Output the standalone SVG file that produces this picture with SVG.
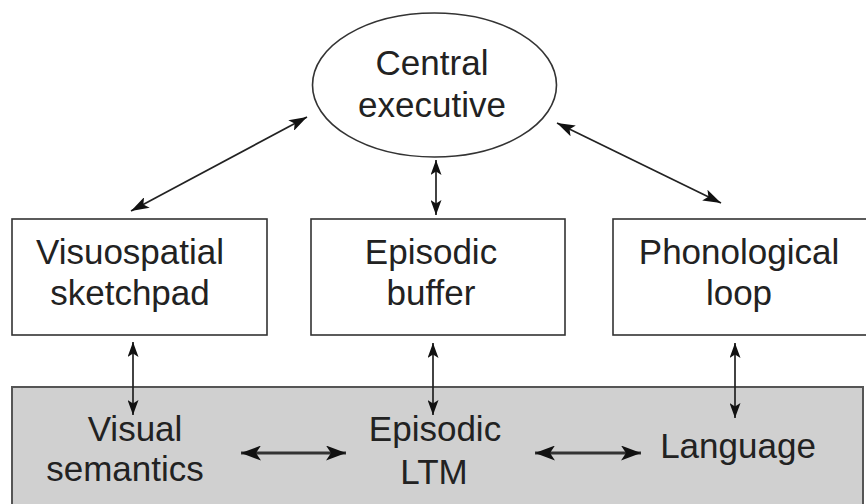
<svg xmlns="http://www.w3.org/2000/svg" width="866" height="504" viewBox="0 0 866 504">
<defs>
<style>
.t{font-family:"Liberation Sans",Arial,Helvetica,sans-serif;font-size:35px;fill:#222;text-anchor:middle}
.n{fill:#fff;stroke:#333;stroke-width:1.6}
.c{stroke:#222;stroke-width:1.7;fill:none}
.h{stroke:#333;stroke-width:3;fill:none}
</style>
<marker id="a" viewBox="0 0 18 12" refX="18" refY="6" markerWidth="18" markerHeight="12" markerUnits="userSpaceOnUse" orient="auto-start-reverse">
<path d="M0,0 L18,6 L0,12 L4,6 Z" fill="#111"/>
</marker>
<marker id="v" viewBox="0 0 15 11" refX="15" refY="5.5" markerWidth="15" markerHeight="11" markerUnits="userSpaceOnUse" orient="auto-start-reverse">
<path d="M0,0 L15,5.5 L0,11 L3.5,5.5 Z" fill="#111"/>
</marker>
<marker id="b" viewBox="0 0 20 15" refX="20" refY="7.5" markerWidth="20" markerHeight="15" markerUnits="userSpaceOnUse" orient="auto-start-reverse">
<path d="M0,0 L20,7.5 L0,15 L5,7.5 Z" fill="#111"/>
</marker>
</defs>
<rect width="866" height="504" fill="#fff"/>
<g id="ltm-band">
<rect x="12" y="387" width="851" height="120" fill="#d0d0d0" stroke="#555" stroke-width="2"/>
</g>
<g id="central-executive">
<ellipse class="n" cx="434.5" cy="85" rx="122" ry="72"/>
<text class="t" x="432" y="75">Central</text>
<text class="t" x="432" y="117">executive</text>
</g>
<g id="visuospatial-sketchpad">
<rect class="n" x="12" y="219" width="255" height="116"/>
<text class="t" x="130" y="264">Visuospatial</text>
<text class="t" x="130" y="305">sketchpad</text>
</g>
<g id="episodic-buffer">
<rect class="n" x="311" y="219" width="254" height="116"/>
<text class="t" x="431" y="264">Episodic</text>
<text class="t" x="431" y="305">buffer</text>
</g>
<g id="phonological-loop">
<rect class="n" x="613" y="219" width="256" height="116"/>
<text class="t" x="739" y="264">Phonological</text>
<text class="t" x="739" y="305">loop</text>
</g>
<g id="visual-semantics">
<text class="t" x="135" y="441">Visual</text>
<text class="t" x="125" y="481">semantics</text>
</g>
<g id="episodic-ltm">
<text class="t" x="435" y="441">Episodic</text>
<text class="t" x="434" y="484">LTM</text>
</g>
<g id="language">
<text class="t" x="738" y="458">Language</text>
</g>
<g id="connectors">
<line class="c" x1="131" y1="211" x2="307" y2="117" marker-start="url(#a)" marker-end="url(#a)"/>
<line class="c" x1="557" y1="123" x2="721" y2="203" marker-start="url(#a)" marker-end="url(#a)"/>
<line class="c" x1="436" y1="160" x2="436" y2="215" marker-start="url(#v)" marker-end="url(#v)"/>
<line class="c" x1="133" y1="342" x2="133" y2="415" marker-start="url(#v)" marker-end="url(#v)"/>
<line class="c" x1="433" y1="343" x2="433" y2="415" marker-start="url(#v)" marker-end="url(#v)"/>
<line class="c" x1="735" y1="343" x2="735" y2="418" marker-start="url(#v)" marker-end="url(#v)"/>
<line class="h" x1="241" y1="453" x2="346" y2="453" marker-start="url(#b)" marker-end="url(#b)"/>
<line class="h" x1="535" y1="453" x2="641" y2="453" marker-start="url(#b)" marker-end="url(#b)"/>
</g>
</svg>
